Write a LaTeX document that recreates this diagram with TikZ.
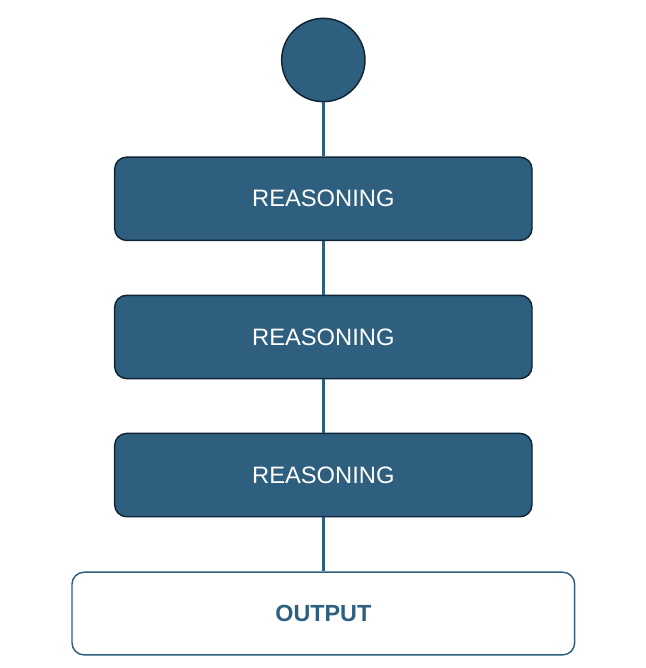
\documentclass[tikz,border=0pt]{standalone}
\usepackage{fontspec}
\setmainfont{Liberation Sans}
\usetikzlibrary{positioning}
\definecolor{blue2}{HTML}{0f2535}
\definecolor{blue4}{HTML}{2e5f7f}

\begin{document}
\begin{tikzpicture}[align=center,
  step box/.style={draw=blue2, fill=blue4, line width=1.1pt, rounded corners=9pt,
    minimum width=313pt, minimum height=62.5pt, text=white, font=\fontsize{17.8}{20}\selectfont},
  out box/.style={draw=blue4, fill=white, line width=1.1pt, rounded corners=9pt,
    minimum width=377pt, minimum height=62pt, text=blue4, font=\bfseries\fontsize{17.5}{20}\selectfont},
  link/.style={draw=blue4, line width=2.2pt}]
\useasboundingbox (0,0) rectangle (484.5pt,-501pt);
\node[circle, draw=blue2, fill=blue4, line width=1.1pt, minimum size=62.5pt, inner sep=0pt] (start) at (242.5pt,-45pt) {};
\node[step box, below=40.5pt of start] (r1) {REASONING};
\node[step box, below=40pt of r1] (r2) {REASONING};
\node[step box, below=40pt of r2] (r3) {REASONING};
\node[out box, below=40.5pt of r3] (out) {OUTPUT};
\path[link] (start) -- (r1);
\path[link] (r1) -- (r2);
\path[link] (r2) -- (r3);
\path[link] (r3) -- (out);
\end{tikzpicture}
\end{document}
